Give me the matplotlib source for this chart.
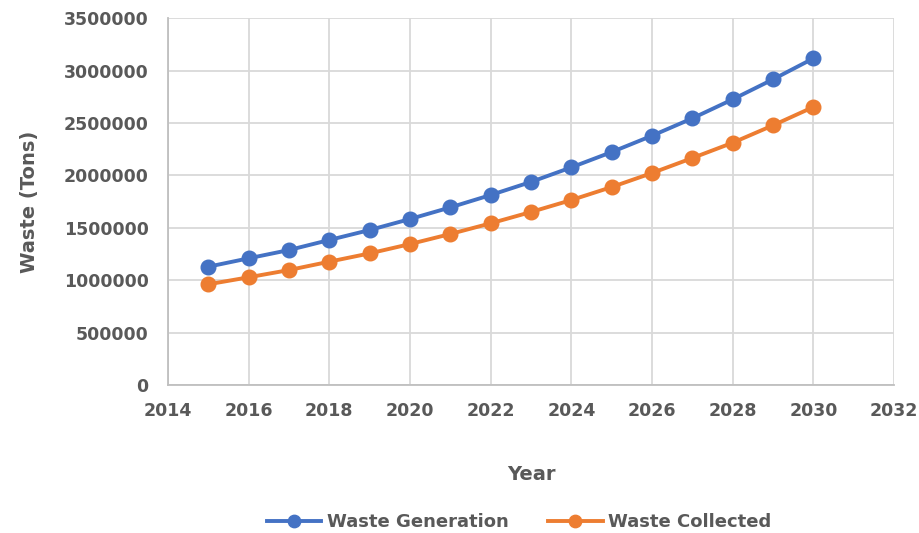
import matplotlib
matplotlib.use("Agg")
import matplotlib.pyplot as plt
from matplotlib.ticker import MultipleLocator, FuncFormatter

years = [2015, 2016, 2017, 2018, 2019, 2020, 2021, 2022,
         2023, 2024, 2025, 2026, 2027, 2028, 2029, 2030]
waste_generation = [1129000, 1209000, 1288000, 1384000, 1479000, 1584000,
                    1695000, 1813000, 1938000, 2077000, 2223000, 2379000,
                    2545000, 2726000, 2917000, 3117000]
waste_collected = [961000, 1028000, 1097000, 1177000, 1256000, 1345000,
                   1441000, 1543000, 1651000, 1765000, 1889000, 2023000,
                   2166000, 2312000, 2478000, 2653000]

text_color = "#595959"
grid_color = "#D9D9D9"
blue = "#4472C4"
orange = "#ED7D31"

plt.rcParams["font.family"] = ["DejaVu Sans"]

fig = plt.figure(figsize=(9.19, 5.33), dpi=100)
ax = fig.add_axes([0.1828, 0.2777, 0.9728 - 0.1828, 0.9657 - 0.2777])

ax.plot(years, waste_generation, color=blue, lw=2.8, marker="o",
        markersize=10.5, label="Waste Generation", zorder=3)
ax.plot(years, waste_collected, color=orange, lw=2.8, marker="o",
        markersize=10.5, label="Waste Collected", zorder=3)

ax.set_xlim(2014, 2032)
ax.set_ylim(0, 3500000)
ax.xaxis.set_major_locator(MultipleLocator(2))
ax.yaxis.set_major_locator(MultipleLocator(500000))
ax.yaxis.set_major_formatter(FuncFormatter(lambda v, p: f"{int(round(v))}"))
ax.grid(True, color=grid_color, lw=1.3)
ax.set_axisbelow(True)

for side in ("top", "right"):
    ax.spines[side].set_visible(False)
for side in ("left", "bottom"):
    ax.spines[side].set_color("#BFBFBF")
    ax.spines[side].set_linewidth(1.3)

ax.tick_params(length=0, labelsize=12.5, labelcolor=text_color)
ax.tick_params(axis="x", pad=12)
ax.tick_params(axis="y", pad=14)
for lbl in ax.get_xticklabels() + ax.get_yticklabels():
    lbl.set_fontweight("bold")

ax.set_xlabel("Year", fontsize=14, fontweight="bold", color=text_color, labelpad=33)
ax.set_ylabel("Waste (Tons)", fontsize=14, fontweight="bold", color=text_color, labelpad=18)

leg = fig.legend(loc="center", bbox_to_anchor=(0.565, 0.02), ncol=2, frameon=False,
                 fontsize=13, handlelength=3.0, columnspacing=2.2,
                 handletextpad=0.3, markerscale=0.85)
for t in leg.get_texts():
    t.set_color(text_color)
    t.set_fontweight("bold")

fig.savefig("out.png", dpi=100)
